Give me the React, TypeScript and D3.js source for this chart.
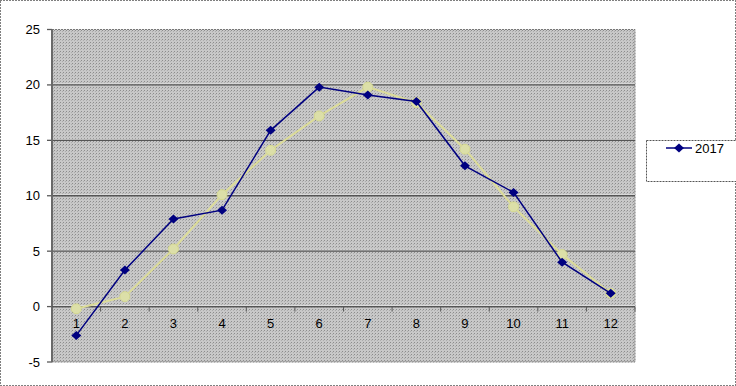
import React from "react";
import * as d3 from "d3";

const categories = ["1", "2", "3", "4", "5", "6", "7", "8", "9", "10", "11", "12"];
const series2017 = [-2.6, 3.3, 7.9, 8.7, 15.9, 19.8, 19.1, 18.5, 12.7, 10.3, 4.0, 1.2];
const seriesOther = [-0.2, 0.9, 5.2, 10.1, 14.1, 17.2, 19.8, 18.4, 14.2, 9.0, 4.7, 1.2];
const yTicks = [-5, 0, 5, 10, 15, 20, 25];
const legendLabel = "2017";

const W = 736, H = 386;
const plot = { left: 52, right: 635, top: 29.5, bottom: 362 };

export default function App() {
  const x = d3.scaleBand().domain(categories).range([plot.left, plot.right]);
  const y = d3.scaleLinear().domain([-5, 25]).range([plot.bottom, plot.top]);
  const cx = (c: string) => (x(c) as number) + x.bandwidth() / 2;
  const line = d3.line<number>().x((_, i) => cx(categories[i])).y((d) => y(d));
  const diamond = "M0,-4.5L5,0L0,4.5L-5,0Z";
  const octagon = d3.line().curve(d3.curveLinearClosed)(
    d3.range(8).map((k) => {
      const a = (Math.PI / 8) + (k * Math.PI) / 4;
      return [5.2 * Math.cos(a), 5.2 * Math.sin(a)] as [number, number];
    })
  ) as string;
  const font = "'Liberation Sans', Arial, sans-serif";
  const y0 = y(0);
  return (
    <div style={{ position: "fixed", left: 0, top: 0 }}>
      <svg width={W} height={H} style={{ display: "block" }}>
        <defs>
          <pattern id="dots" width="3" height="3" patternUnits="userSpaceOnUse">
            <rect width="3" height="3" fill="#c8c8c8" />
            <rect x="0" y="0" width="1" height="1" fill="#8c8c8c" />
            <rect x="2" y="1" width="1" height="1" fill="#acacac" />
          </pattern>
        </defs>
        <rect x={0} y={0} width={W} height={H} fill="#fff" />
        <rect x={0.5} y={0.5} width={W - 1} height={H - 1} fill="none" stroke="#000" strokeDasharray="1,2" />
        <rect x={plot.left} y={plot.top} width={plot.right - plot.left} height={plot.bottom - plot.top} fill="url(#dots)" />
        <rect x={plot.left} y={plot.top} width={plot.right - plot.left} height={plot.bottom - plot.top} fill="none" stroke="#777" strokeDasharray="2,1" />
        {yTicks.map((t) => (
          <g key={t}>
            {t !== -5 && t !== 25 && (
              <>
                <line x1={plot.left} x2={plot.right} y1={y(t) - 1} y2={y(t) - 1} stroke="#e0e0e0" strokeWidth={1} />
                <line x1={plot.left} x2={plot.right} y1={y(t)} y2={y(t)} stroke="#555" strokeWidth={1.3} />
              </>
            )}
            <line x1={plot.left - 5} x2={plot.left} y1={y(t)} y2={y(t)} stroke="#5a5a5a" strokeWidth={1.3} />
            <text x={plot.left - 12} y={y(t)} dy="0.35em" textAnchor="end" fontFamily={font} fontSize={13} fill="#000">
              {t}
            </text>
          </g>
        ))}
        <line x1={plot.left} x2={plot.left} y1={plot.top} y2={plot.bottom} stroke="#6a6a6a" strokeWidth={2} />
        <line x1={plot.left} x2={plot.right} y1={y0} y2={y0} stroke="#555" strokeWidth={1.3} />
        {categories.map((c) => (
          <g key={c}>
            <line x1={(x(c) as number) + x.bandwidth()} x2={(x(c) as number) + x.bandwidth()} y1={y0} y2={y0 + 5} stroke="#5a5a5a" strokeWidth={1} />
            <text x={cx(c)} y={y0 + 17} dy="0.35em" textAnchor="middle" fontFamily={font} fontSize={13} fill="#000">
              {c}
            </text>
          </g>
        ))}
        <path d={line(seriesOther) as string} fill="none" stroke="#dcdc98" strokeWidth={2} />
        {seriesOther.map((v, i) => (
          <path key={i} d={octagon} transform={`translate(${cx(categories[i])},${y(v)})`} fill="#dcdfa8" stroke="#d4d890" strokeWidth={1} />
        ))}
        <path d={line(series2017) as string} fill="none" stroke="#000080" strokeWidth={1.5} />
        {series2017.map((v, i) => (
          <path key={i} d={diamond} transform={`translate(${cx(categories[i])},${y(v)})`} fill="#000080" />
        ))}
        <rect x={646.5} y={140.5} width={95} height={41} fill="#fff" stroke="#555" strokeDasharray="2,1" />
        <line x1={666} x2={692} y1={148} y2={148} stroke="#000080" strokeWidth={1.5} />
        <path d={diamond} transform="translate(679,148)" fill="#000080" />
        <text x={695} y={148} dy="0.35em" fontFamily={font} fontSize={13} fill="#000">
          {legendLabel}
        </text>
      </svg>
    </div>
  );
}
